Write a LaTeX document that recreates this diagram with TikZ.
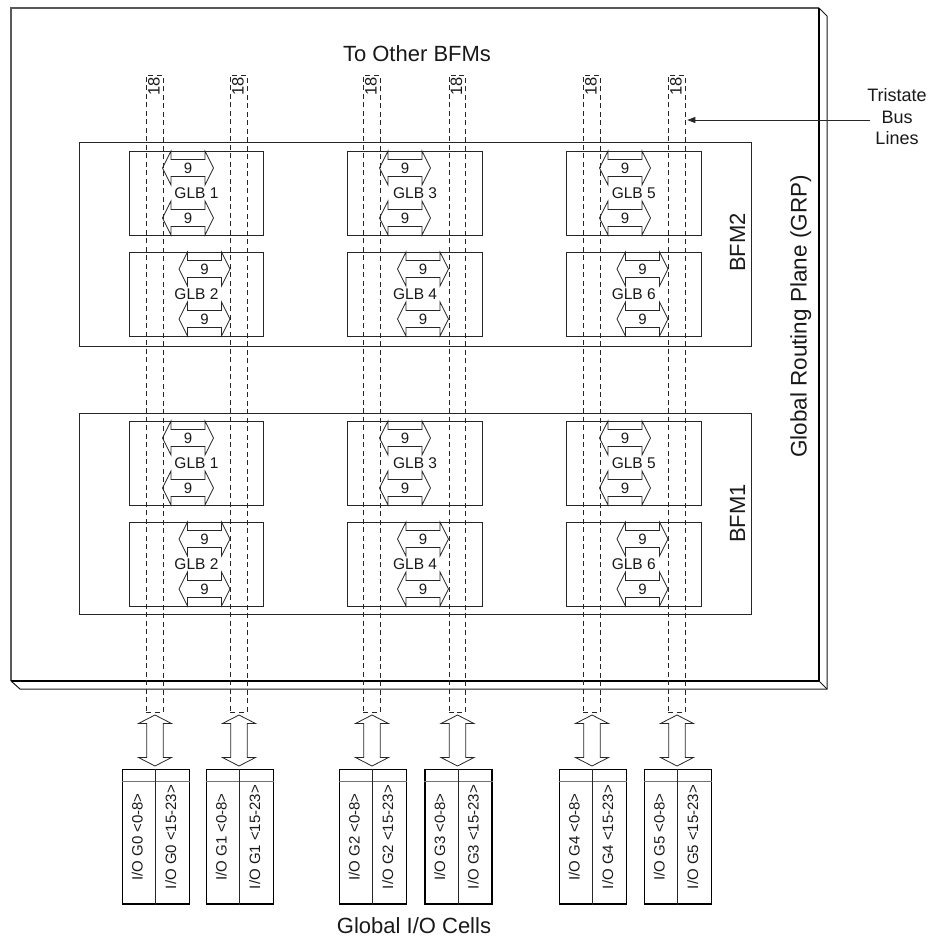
\documentclass[tikz,border=0pt]{standalone}
\usepackage{fontspec}
\setmainfont{Liberation Sans}
\usetikzlibrary{arrows.meta}
\newcommand\myfs[1]{\fontsize{#1pt}{#1pt}\selectfont}
\newcommand\hdbl[2]{\draw[dbl] (#1,#2) -- ++(8.5,-17) -- ++(0,8.5) -- ++(34,0) -- ++(0,-8.5) -- ++(8.5,17) -- ++(-8.5,17) -- ++(0,-8.5) -- ++(-34,0) -- ++(0,8.5) -- cycle;}
\newcommand\vdbl[2]{\draw[dbl] (#1,#2) -- ++(16.5,8.5) -- ++(-8.25,0) -- ++(0,34) -- ++(8.25,0) -- ++(-16.5,8.5) -- ++(-16.5,-8.5) -- ++(8.25,0) -- ++(0,-34) -- ++(-8.25,0) -- cycle;}
\begin{document}
\begin{tikzpicture}[x=1pt,y=-1pt,
  box/.style={draw=black!85, line width=0.9pt, inner sep=0pt, anchor=north west, text=black!90},
  bus/.style={draw=black!85, line width=0.8pt, dash pattern=on 5pt off 3.5pt, inner sep=0pt, anchor=north west, minimum width=16.5, minimum height=637},
  dbl/.style={draw=black!85, line width=0.8pt, line join=miter},
  lbl/.style={inner sep=0pt, text=black!90},
  cell/.style={draw=black, line width=1.6pt, inner sep=0pt, anchor=north west, minimum width=67, minimum height=134.6},
]
\useasboundingbox (0,0) rectangle (933,936);

% global routing plane frame
\draw[black!65, line width=1.3pt] (11,681) -- (11,8) -- (819,8);
\draw[black, line width=2.6pt] (819,8) -- (819,681) -- (11,681);
\draw[black!90, line width=1pt] (819,8) -- (827,16) -- (827,689) -- (20,689) -- (11,681);
\draw[black!90, line width=1pt] (819,681) -- (827,689);

% texts
\node[lbl, anchor=base, font=\myfs{22}] (other) at (417,61.7) {To Other BFMs};
\node[lbl, anchor=base, font=\myfs{22}] (gio) at (414,933) {Global I/O Cells};
\node[lbl, rotate=90, anchor=base, font=\myfs{22.5}] (grp) at (806.7,316.5) {Global Routing Plane (GRP)};
\node[lbl, anchor=base, font=\myfs{18}] (tri1) at (897,101.7) {Tristate};
\node[lbl, anchor=base, font=\myfs{18}] (tri2) at (897,124) {Bus};
\node[lbl, anchor=base, font=\myfs{18}] (tri3) at (897,145) {Lines};

% BFMs with GLBs
\foreach \b/\top/\h/\dy in {2/142/204/0, 1/413/201/270} {
  \node[box, minimum width=672, minimum height=\h] (bfm\b) at (79,\top) {};
  \node[lbl, rotate=90, anchor=base, font=\myfs{22}] (bfmlabel\b) at (745,\top+100.5) {BFM\b};
  \foreach \ta/\tb/\gx/\ax/\bx in {1/2/128.7/162.5/179, 3/4/347.3/379.5/397.5, 5/6/566/599.5/617} {
    \node[box, minimum width=134.6, minimum height=84, font=\myfs{15.5}] (glb\b-\ta) at (\gx,151+\dy) {GLB \ta};
    \node[box, minimum width=134.6, minimum height=84, font=\myfs{15.5}] (glb\b-\tb) at (\gx,252+\dy) {GLB \tb};
    \hdbl{\ax}{168+\dy}
    \hdbl{\ax}{218+\dy}
    \hdbl{\bx}{269+\dy}
    \hdbl{\bx}{319+\dy}
    \node[lbl, font=\myfs{15}] (n\b-\ta-a) at (\ax+25.5,168+\dy) {9};
    \node[lbl, font=\myfs{15}] (n\b-\ta-b) at (\ax+25.5,218+\dy) {9};
    \node[lbl, font=\myfs{15}] (n\b-\tb-a) at (\bx+25.5,269+\dy) {9};
    \node[lbl, font=\myfs{15}] (n\b-\tb-b) at (\bx+25.5,319+\dy) {9};
  }
}

% tristate bus lines and global I/O cells
\foreach \i/\L in {0/146, 1/230, 2/363, 3/448.5, 4/583, 5/668} {
  \pgfmathsetmacro\c{\L+9}
  \node[bus] (bus\i) at (\L,75) {};
  \node[lbl, rotate=90, anchor=base, font=\myfs{16.5}] (w\i) at (\c+4.5,86.7) {18};
  \vdbl{\c}{715}
  \node[cell] (io\i) at (\c-33.5,768.7) {};
  \draw[black!55, line width=1.3pt] ([yshift=-13pt]io\i.north west) -- ([yshift=-13pt]io\i.north east);
  \draw[black!85, line width=1.2pt] (io\i.north) -- (io\i.south);
  \node[lbl, rotate=90, anchor=base, font=\myfs{15}] (ioa\i) at (\c-12.5,837) {I/O G\i{} <0-8>};
  \node[lbl, rotate=90, anchor=base, font=\myfs{15}] (iob\i) at (\c+21,837) {I/O G\i{} <15-23>};
}

\coordinate (trist) at (870,120);
\draw[black!85, line width=0.8pt, -{Triangle[length=8pt,width=6pt]}] (trist) -- ([xshift=2pt]bus5.east |- trist);
\end{tikzpicture}
\end{document}
